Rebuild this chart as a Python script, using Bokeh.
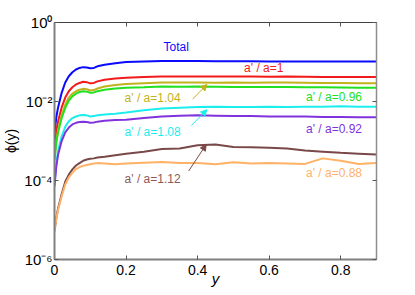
import math
from bokeh.plotting import figure
from bokeh.models import (Range1d, LogAxis, LinearAxis, FixedTicker, Label, Arrow,
                          NormalHead, CustomJSTickFormatter)
from bokeh.embed import file_html
from bokeh.resources import INLINE

# ---------------- data ----------------
xs = [0, 0.005, 0.01, 0.02, 0.03, 0.04, 0.05, 0.06, 0.07, 0.08, 0.09, 0.10, 0.11, 0.12,
      0.14, 0.17, 0.2, 0.25, 0.3, 0.35, 0.4, 0.45, 0.5, 0.55, 0.6, 0.65, 0.7, 0.75, 0.8, 0.85, 0.9]

# log10(phi) for each series
log_total = [-2.81, -2.40, -2.15, -1.78, -1.52, -1.36, -1.26, -1.19, -1.15, -1.13, -1.14, -1.16, -1.15, -1.11,
             -1.07, -1.03, -1.00, -0.985, -0.975, -0.975, -0.975, -0.98, -0.98, -0.98, -0.985, -0.985, -0.985, -0.99, -0.99, -0.99, -0.99]
log_100 = [-3.16, -2.75, -2.50, -2.15, -1.90, -1.74, -1.64, -1.57, -1.53, -1.50, -1.51, -1.54, -1.53, -1.49,
           -1.45, -1.42, -1.40, -1.38, -1.37, -1.37, -1.365, -1.37, -1.37, -1.37, -1.375, -1.37, -1.375, -1.38, -1.38, -1.38, -1.38]
log_104 = [-3.45, -3.00, -2.72, -2.35, -2.08, -1.90, -1.80, -1.74, -1.70, -1.68, -1.69, -1.72, -1.71, -1.67,
           -1.62, -1.58, -1.56, -1.54, -1.52, -1.52, -1.52, -1.525, -1.52, -1.525, -1.52, -1.52, -1.525, -1.53, -1.53, -1.535, -1.54]
log_096 = [-3.50, -3.05, -2.78, -2.42, -2.16, -1.98, -1.87, -1.80, -1.76, -1.74, -1.75, -1.78, -1.77, -1.74,
           -1.70, -1.67, -1.65, -1.64, -1.62, -1.625, -1.62, -1.625, -1.63, -1.63, -1.635, -1.63, -1.64, -1.64, -1.645, -1.65, -1.65]
log_108 = [-4.08, -3.55, -3.25, -2.88, -2.64, -2.50, -2.42, -2.38, -2.35, -2.34, -2.35, -2.38, -2.37, -2.35,
           -2.33, -2.31, -2.28, -2.22, -2.18, -2.16, -2.14, -2.135, -2.14, -2.14, -2.13, -2.14, -2.13, -2.13, -2.12, -2.13, -2.13]
log_092 = [-4.15, -3.65, -3.35, -3.00, -2.78, -2.66, -2.58, -2.54, -2.52, -2.51, -2.52, -2.54, -2.53, -2.51,
           -2.49, -2.47, -2.46, -2.42, -2.38, -2.36, -2.35, -2.36, -2.37, -2.37, -2.38, -2.38, -2.38, -2.39, -2.39, -2.40, -2.40]
log_112 = [-5.27, -4.95, -4.70, -4.35, -4.03, -3.85, -3.72, -3.62, -3.56, -3.50, -3.47, -3.45, -3.44, -3.42,
           -3.40, -3.36, -3.32, -3.27, -3.20, -3.19, -3.11, -3.09, -3.15, -3.16, -3.17, -3.19, -3.24, -3.27, -3.30, -3.32, -3.34]
log_088 = [-5.30, -4.98, -4.74, -4.40, -4.10, -3.92, -3.80, -3.71, -3.66, -3.63, -3.61, -3.59, -3.57, -3.56,
           -3.57, -3.59, -3.57, -3.55, -3.53, -3.56, -3.56, -3.59, -3.54, -3.57, -3.56, -3.57, -3.58, -3.44, -3.50, -3.58, -3.56]

series_logs = [log_total, log_100, log_104, log_096, log_108, log_092, log_112, log_088]
series_colors = ["#0a0aff", "#f21b1b", "#c2b21c", "#22e022", "#1ceeee", "#8033dd", "#7a4848", "#ffb266"]

x_ticks = [0, 0.2, 0.4, 0.6, 0.8]
y_ticks = [1e-6, 1e-4, 1e-2, 1]

FONT = "Liberation Sans"

p = figure(frame_width=322, frame_height=237, x_range=Range1d(0, 0.9), y_range=Range1d(1e-6, 1),
           y_axis_type="log", output_backend="svg", toolbar_location=None,
           min_border_left=54, min_border_top=22, min_border_right=31, min_border_bottom=34)
p.background_fill_color = "white"
p.border_fill_color = "white"
p.grid.visible = False
p.outline_line_color = "#404040"
p.outline_line_width = 1

for lg, c in zip(series_logs, series_colors):
    p.line(xs, [10 ** v for v in lg], line_color=c, line_width=2)

sup_js = """
const m = {'0':'\u2070','1':'\u00b9','2':'\u00b2','3':'\u00b3','4':'\u2074','5':'\u2075','6':'\u2076','7':'\u2077','8':'\u2078','9':'\u2079','-':'\u207b'};
const e = String(Math.round(Math.log10(tick)));
let s = '';
for (const ch of e) { s += m[ch]; }
return '10' + s;
"""

xa = p.xaxis[0]
xa.ticker = FixedTicker(ticks=x_ticks)
xa.major_tick_in = 4
xa.major_tick_out = 0
xa.minor_tick_line_color = None
xa.axis_line_color = "#7f7f7f"
xa.axis_line_width = 2
xa.major_tick_line_color = "#555555"
xa.major_label_text_font = FONT
xa.major_label_text_font_size = "14px"
xa.major_label_text_color = "black"
xa.major_label_standoff = 5
xa.axis_label = "y"
xa.axis_label_text_font = FONT
xa.axis_label_text_font_size = "15px"
xa.axis_label_text_font_style = "italic"
xa.axis_label_text_color = "black"
xa.axis_label_standoff = -8

ya = p.yaxis[0]
ya.ticker = FixedTicker(ticks=y_ticks)
ya.formatter = CustomJSTickFormatter(code=sup_js)
ya.major_tick_in = 4
ya.major_tick_out = 0
ya.minor_tick_line_color = None
ya.axis_line_color = "#7f7f7f"
ya.axis_line_width = 2
ya.major_tick_line_color = "#555555"
ya.major_label_text_font = FONT
ya.major_label_text_font_size = "15px"
ya.major_label_text_color = "black"
ya.major_label_standoff = 2
ya.axis_label = "\u03d5(y)"
ya.axis_label_text_font = FONT
ya.axis_label_text_font_size = "14px"
ya.axis_label_text_font_style = "normal"
ya.axis_label_text_color = "black"
ya.axis_label_standoff = 2

blank = "return '';"
top = LinearAxis(ticker=FixedTicker(ticks=x_ticks), major_tick_in=4, major_tick_out=0,
                 minor_tick_line_color=None, axis_line_color=None,
                 formatter=CustomJSTickFormatter(code=blank), major_label_text_font_size="6px",
                 major_label_standoff=0, major_tick_line_color="#555555")
p.add_layout(top, "above")
right = LogAxis(ticker=FixedTicker(ticks=y_ticks), major_tick_in=4, major_tick_out=0,
                minor_tick_line_color=None, axis_line_color="#8c8c8c", axis_line_width=1.5,
                formatter=CustomJSTickFormatter(code=blank), major_label_text_font_size="6px",
                major_label_standoff=0, major_tick_line_color="#555555")
p.add_layout(right, "right")

# series labels
labels = [
    ("Total", 0.34, -0.625, "center", "#0a0aff"),
    ("a' / a=1", 0.53, -1.16, "left", "#f21b1b"),
    ("a' / a=1.04", 0.196, -1.92, "left", "#c2b21c"),
    ("a' / a=0.96", 0.703, -1.89, "left", "#22e022"),
    ("a' / a=1.08", 0.196, -2.78, "left", "#1ceeee"),
    ("a' / a=0.92", 0.703, -2.69, "left", "#8033dd"),
    ("a' / a=1.12", 0.196, -3.97, "left", "#8a5a5a"),
    ("a' / a=0.88", 0.703, -3.81, "left", "#ffb266"),
]
for t, lx, ly, al, c in labels:
    p.add_layout(Label(x=lx, y=10 ** ly, text=t, text_align=al, text_baseline="middle",
                       text_color=c, text_font=FONT, text_font_size="12px"))

arrows = [
    (0.386, -1.94, 0.426, -1.57, "#c2b21c"),
    (0.382, -2.61, 0.426, -2.21, "#1ceeee"),
    (0.375, -3.76, 0.424, -3.09, "#7a4848"),
]
for x0, y0, x1, y1, c in arrows:
    p.add_layout(Arrow(x_start=x0, y_start=10 ** y0, x_end=x1, y_end=10 ** y1, line_color=c, line_width=1,
                       end=NormalHead(size=6, fill_color=c, line_color=c)))

open("out.html", "w").write(file_html(p, INLINE))
